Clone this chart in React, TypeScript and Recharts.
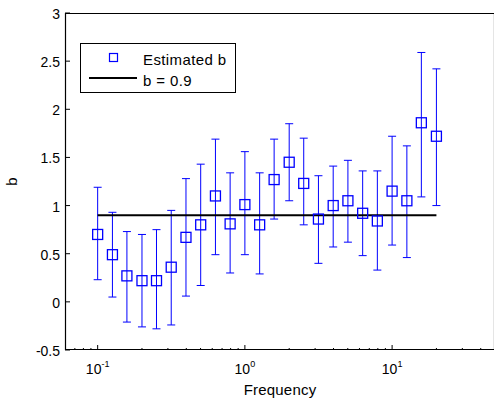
import { ComposedChart, Scatter, XAxis, YAxis, ErrorBar, Legend, ReferenceArea } from "recharts";

// frequencies (log spaced, 10 per decade)
const frequencies = [
  0.1, 0.126, 0.158, 0.2, 0.251, 0.316, 0.398, 0.501, 0.631, 0.794, 1, 1.26,
  1.58, 2, 2.51, 3.16, 3.98, 5.01, 6.31, 7.94, 10, 12.6, 15.8, 20,
];
const estimatedB = [
  0.7, 0.49, 0.27, 0.22, 0.22, 0.36, 0.67, 0.8, 1.1, 0.81, 1.01, 0.8, 1.27,
  1.45, 1.23, 0.86, 1.0, 1.05, 0.92, 0.84, 1.15, 1.05, 1.86, 1.72,
];
const upperB = [
  1.19, 0.93, 0.73, 0.7, 0.75, 0.95, 1.28, 1.43, 1.69, 1.34, 1.56, 1.34, 1.69,
  1.85, 1.7, 1.31, 1.41, 1.47, 1.36, 1.36, 1.72, 1.62, 2.59, 2.42,
];
const lowerB = [
  0.23, 0.05, -0.21, -0.26, -0.28, -0.24, 0.06, 0.17, 0.49, 0.3, 0.49, 0.29,
  0.86, 1.05, 0.8, 0.4, 0.57, 0.62, 0.48, 0.33, 0.59, 0.46, 1.09, 1.0,
];
const refB = 0.9;
const refRange = [0.1, 20];

const xDomain = [0.06, 50];
const yDomain = [-0.5, 3];
const xMajorTicks = [0.1, 1, 10];
const xMinorTicks = [
  0.07, 0.08, 0.09, 0.2, 0.3, 0.4, 0.5, 0.6, 0.7, 0.8, 0.9, 2, 3, 4, 5, 6, 7,
  8, 9, 20, 30, 40,
];
const yTicks = [-0.5, 0, 0.5, 1, 1.5, 2, 2.5, 3];

const FONT = "'Liberation Sans', Arial, sans-serif";
const BLUE = "#0000ff";

const points = frequencies.map((f, i) => ({
  x: f,
  y: estimatedB[i],
  err: [estimatedB[i] - lowerB[i], upperB[i] - estimatedB[i]],
}));
const refLine = refRange.map((f) => ({ x: f, y: refB }));
const allXTicks = [...xMajorTicks, ...xMinorTicks].sort((a, b) => a - b);

function BottomTick({ x, y, payload }: any) {
  const major = xMajorTicks.includes(payload.value);
  const exp = Math.round(Math.log10(payload.value));
  return (
    <g>
      <line x1={x} x2={x} y1={y} y2={y - (major ? 5 : 2)} stroke="#000" />
      {major && (
        <text x={x} y={y + 24} textAnchor="middle" fontFamily={FONT} fontSize={14} fill="#000">
          10
          <tspan dy={-7} fontSize={9}>{exp}</tspan>
        </text>
      )}
    </g>
  );
}

function TopTick({ x, y, payload }: any) {
  const major = xMajorTicks.includes(payload.value);
  return <line x1={x} x2={x} y1={y} y2={y + (major ? 5 : 2)} stroke="#000" />;
}

function LeftTick({ x, y, payload }: any) {
  return (
    <g>
      <line x1={x} x2={x + 5} y1={y} y2={y} stroke="#000" />
      <text x={x - 5} y={y + 6} textAnchor="end" fontFamily={FONT} fontSize={14} fill="#000">
        {payload.value}
      </text>
    </g>
  );
}

function RightTick({ x, y }: any) {
  return <line x1={x} x2={x - 5} y1={y} y2={y} stroke="#000" />;
}

function Square({ cx, cy }: any) {
  return <rect x={cx - 5} y={cy - 5} width={10} height={10} fill="none" stroke={BLUE} strokeWidth={1.3} />;
}

// plot box frame, snapped to whole pixels
function Frame({ x, y, width, height }: any) {
  const x0 = Math.round(x) + 0.5;
  const y0 = Math.round(y) + 0.5;
  const x1 = Math.round(x + width) - 0.5;
  const y1 = Math.round(y + height) - 0.5;
  return (
    <path
      d={`M${x0},${y0}H${x1}V${y1}H${x0}Z`}
      fill="none"
      stroke="#000"
      strokeWidth={1.2}
    />
  );
}

function LegendBox() {
  return (
    <svg width={157} height={51} style={{ display: "block" }}>
      <rect x={0.5} y={0.5} width={155} height={49} fill="#fff" stroke="#000" />
      <rect x={29.5} y={10.5} width={8} height={8} fill="none" stroke={BLUE} strokeWidth={1.2} />
      <text x={63} y={22} fontFamily={FONT} fontSize={15} letterSpacing={0.4} fill="#000">
        Estimated b
      </text>
      <line x1={9} x2={57} y1={35} y2={35} stroke="#000" strokeWidth={2} />
      <text x={63} y={43} fontFamily={FONT} fontSize={15} letterSpacing={0.4} fill="#000">
        b = 0.9
      </text>
    </svg>
  );
}

export default function App() {
  return (
    <div style={{ position: "absolute", left: 0, top: 0, width: 494, height: 401, overflow: "hidden", background: "#fff" }}>
      <ComposedChart width={500} height={401} margin={{ top: 13, right: 5, bottom: 0, left: 0 }}>
        <XAxis
          xAxisId="bottom"
          dataKey="x"
          type="number"
          scale="log"
          domain={xDomain}
          allowDataOverflow
          ticks={allXTicks}
          interval={0}
          height={51}
          tickSize={0}
          tickMargin={0}
          tickLine={false}
          axisLine={false}
          tick={<BottomTick />}
          label={{
            content: ({ viewBox }: any) => (
              <text
                x={viewBox.x + viewBox.width / 2}
                y={viewBox.y + 45}
                textAnchor="middle"
                fontFamily={FONT}
                fontSize={15}
                letterSpacing={0.2}
                fill="#000"
              >
                Frequency
              </text>
            ),
          }}
        />
        <XAxis
          xAxisId="top"
          orientation="top"
          dataKey="x"
          type="number"
          scale="log"
          domain={xDomain}
          allowDataOverflow
          ticks={allXTicks}
          interval={0}
          height={0}
          tickSize={0}
          tickMargin={0}
          tickLine={false}
          axisLine={false}
          tick={<TopTick />}
        />
        <YAxis
          yAxisId="left"
          dataKey="y"
          type="number"
          domain={yDomain}
          allowDataOverflow
          ticks={yTicks}
          interval={0}
          width={65}
          tickSize={0}
          tickMargin={0}
          tickLine={false}
          axisLine={false}
          tick={<LeftTick />}
          label={{
            content: ({ viewBox }: any) => {
              const cx = 17;
              const cy = viewBox.y + viewBox.height / 2;
              return (
                <text
                  x={cx}
                  y={cy}
                  transform={`rotate(-90 ${cx} ${cy})`}
                  textAnchor="middle"
                  fontFamily={FONT}
                  fontSize={15}
                  fill="#000"
                >
                  b
                </text>
              );
            },
          }}
        />
        <YAxis
          yAxisId="right"
          orientation="right"
          dataKey="y"
          type="number"
          domain={yDomain}
          allowDataOverflow
          ticks={yTicks}
          interval={0}
          width={0}
          tickSize={0}
          tickMargin={0}
          tickLine={false}
          axisLine={false}
          tick={<RightTick />}
        />
        <ReferenceArea
          xAxisId="bottom"
          yAxisId="left"
          x1={xDomain[0]}
          x2={xDomain[1]}
          y1={yDomain[0]}
          y2={yDomain[1]}
          ifOverflow="visible"
          shape={<Frame />}
        />
        <Scatter
          data={refLine}
          xAxisId="bottom"
          yAxisId="left"
          line={{ stroke: "#000", strokeWidth: 2 }}
          shape={() => <g />}
          isAnimationActive={false}
          legendType="none"
        />
        <Scatter
          data={points}
          xAxisId="bottom"
          yAxisId="left"
          shape={<Square />}
          isAnimationActive={false}
        >
          <ErrorBar dataKey="err" direction="y" width={4} stroke={BLUE} strokeWidth={1} />
        </Scatter>
        <Legend
          layout="vertical"
          align="center"
          verticalAlign="middle"
          wrapperStyle={{ position: "absolute", left: 80, top: 43, width: 157, height: 51 }}
          content={() => <LegendBox />}
        />
      </ComposedChart>
    </div>
  );
}
